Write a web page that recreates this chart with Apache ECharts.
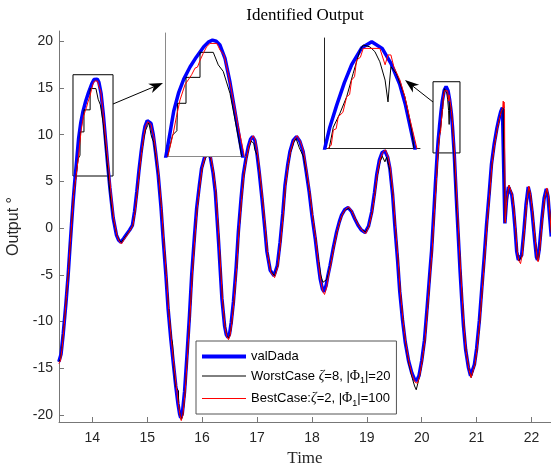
<!DOCTYPE html>
<html>
<head>
<meta charset="utf-8">
<script src="https://cdn.jsdelivr.net/npm/echarts@6/dist/echarts.min.js"></script>
<style>
html, body { margin: 0; padding: 0; background: #fff; }
#container { width: 551px; height: 466px; }
</style>
</head>
<body>
<div id="container"></div>
<script>
// time / output pairs
var valDada = [
  [13.39,-14.3],[13.43,-13.5],[13.47,-11.3],[13.52,-8.0],[13.56,-5.0],[13.59,-2.3],[13.62,0.3],[13.65,2.8],[13.68,5.0],
  [13.72,7.6],[13.75,9.6],[13.79,11.3],[13.83,12.5],[13.88,13.6],[13.93,14.5],[13.99,15.45],[14.03,15.9],[14.06,16.05],
  [14.09,15.95],[14.12,15.6],[14.16,14.4],[14.20,12.2],[14.24,9.5],[14.28,6.8],[14.32,4.3],[14.38,1.1],[14.44,-0.75],
  [14.48,-1.3],[14.52,-1.5],[14.57,-1.1],[14.63,-0.6],[14.68,-0.2],[14.73,0.3],[14.77,1.8],[14.81,3.9],[14.85,6.2],
  [14.89,8.2],[14.93,9.9],[14.96,10.9],[15.00,11.5],[15.03,11.7],[15.07,11.2],[15.11,10.0],[15.15,8.2],[15.20,5.7],
  [15.25,2.3],[15.29,-1.1],[15.34,-5.0],[15.38,-8.6],[15.43,-11.9],[15.48,-14.7],[15.52,-16.9],[15.56,-18.8],[15.59,-19.9],
  [15.61,-20.3],[15.64,-19.8],[15.68,-17.5],[15.72,-14.0],[15.77,-9.3],[15.81,-5.0],[15.86,-0.9],[15.90,2.1],[15.95,4.6],
  [15.99,6.4],[16.05,7.7],[16.10,8.1],[16.15,7.6],[16.20,5.9],[16.24,3.9],[16.30,-1.5],[16.36,-7.5],[16.41,-10.5],
  [16.44,-11.4],[16.47,-11.7],[16.50,-11.3],[16.53,-10.1],[16.57,-7.9],[16.62,-4.2],[16.66,-0.4],[16.71,3.2],[16.75,5.7],
  [16.80,7.5],[16.84,8.7],[16.88,9.5],[16.92,9.8],[16.96,9.4],[16.99,8.4],[17.04,6.0],[17.09,3.2],[17.14,0.1],[17.18,-2.5],
  [17.24,-4.5],[17.31,-5.1],[17.37,-4.0],[17.42,-1.5],[17.47,1.6],[17.51,4.6],[17.56,6.8],[17.60,8.2],[17.66,9.4],
  [17.72,9.8],[17.78,9.3],[17.84,8.2],[17.89,6.3],[17.95,3.9],[18.00,1.4],[18.06,-1.1],[18.11,-3.6],[18.15,-5.4],
  [18.19,-6.5],[18.22,-6.8],[18.26,-6.1],[18.29,-5.1],[18.33,-4.0],[18.39,-2.1],[18.45,-0.4],[18.50,0.7],[18.54,1.4],
  [18.60,2.0],[18.66,2.2],[18.72,1.8],[18.78,1.0],[18.84,0.3],[18.90,-0.2],[18.97,-0.46],[19.03,0.2],[19.09,1.75],
  [19.14,3.8],[19.18,5.7],[19.23,7.3],[19.28,8.1],[19.33,8.26],[19.38,7.6],[19.42,6.4],[19.47,3.6],[19.51,0.3],
  [19.56,-3.4],[19.60,-6.8],[19.65,-9.8],[19.70,-12.2],[19.76,-14.2],[19.82,-15.5],[19.87,-16.2],[19.91,-16.3],
  [19.95,-15.8],[20.00,-14.2],[20.05,-12.0],[20.10,-8.4],[20.15,-4.6],[20.18,-2.4],[20.22,1.6],[20.25,4.8],[20.283,8.0],
  [20.30,9.4],[20.324,10.9],[20.35,12.4],[20.375,13.6],[20.41,14.75],[20.444,15.15],[20.48,14.7],[20.51,13.7],
  [20.54,12.3],[20.56,10.9],[20.592,8.0],[20.64,2.1],[20.67,-1.3],[20.70,-4.7],[20.73,-7.7],[20.76,-10.4],[20.80,-13.0],
  [20.85,-14.9],[20.89,-15.8],[20.92,-15.7],[20.96,-14.6],[21.00,-12.9],[21.05,-9.9],[21.09,-6.8],[21.14,-3.0],[21.18,0.3],
  [21.23,3.8],[21.27,6.8],[21.32,9.0],[21.37,10.7],[21.41,11.8],[21.44,12.5],[21.47,12.9],[21.495,12.9],[21.515,0.5],
  [21.545,3.0],[21.58,4.4],[21.61,4.5],[21.64,3.6],[21.67,2.1],[21.70,0.0],[21.73,-2.5],[21.76,-3.4],[21.79,-3.6],
  [21.82,-2.9],[21.86,-0.4],[21.90,2.5],[21.94,4.4],[21.97,3.7],[22.01,1.75],[22.06,-1.4],[22.09,-3.1],[22.11,-3.4],
  [22.14,-2.3],[22.19,1.0],[22.23,3.2],[22.27,4.2],[22.30,3.4],[22.33,1.2],[22.36,-0.9]
];

var worstCase = [
  [13.39,-14.3],[13.42,-14.0],[13.45,-12.6],[13.49,-10.2],[13.53,-7.2],[13.57,-4.3],[13.60,-1.5],[13.63,1.1],[13.66,3.6],
  [13.70,5.4],[13.74,7.4],[13.775,7.8],[13.78,10.3],[13.848,10.3],[13.848,12.66],[13.96,12.66],[13.96,14.94],[14.066,14.94],
  [14.106,13.8],[14.146,13.2],[14.20,11.2],[14.24,8.8],[14.27,7.0],[14.30,5.0],[14.34,2.8],[14.39,0.8],[14.45,-0.8],
  [14.49,-1.3],[14.53,-1.5],[14.58,-1.1],[14.64,-0.6],[14.69,-0.2],[14.74,0.3],[14.78,1.8],[14.82,3.9],[14.86,6.2],
  [14.90,8.2],[14.94,9.7],[14.97,10.5],[15.01,11.0],[15.03,11.3],[15.05,11.2],[15.07,10.0],[15.09,9.6],[15.12,9.2],
  [15.16,7.6],[15.21,5.4],[15.26,2.1],[15.30,-1.2],[15.35,-5.0],[15.39,-8.6],[15.44,-11.8],[15.46,-12.3],[15.49,-12.3],
  [15.49,-15.3],[15.52,-15.3],[15.52,-17.0],[15.57,-17.4],[15.57,-18.8],[15.60,-20.0],[15.62,-20.5],[15.65,-20.0],
  [15.69,-17.6],[15.73,-14.0],[15.78,-9.3],[15.82,-5.0],[15.87,-0.9],[15.91,2.1],[15.96,4.6],[16.00,6.4],[16.06,7.5],
  [16.11,7.8],[16.16,7.4],[16.21,5.9],[16.25,3.9],[16.31,-1.5],[16.37,-7.6],[16.42,-10.6],[16.45,-11.5],[16.48,-11.8],
  [16.51,-11.4],[16.54,-10.2],[16.58,-7.9],[16.63,-4.2],[16.67,-0.4],[16.72,3.2],[16.76,5.7],[16.81,7.5],[16.85,8.6],
  [16.89,9.3],[16.92,9.5],[16.94,9.1],[16.96,8.4],[16.98,8.5],[17.01,7.7],[17.05,5.8],[17.10,3.1],[17.15,0.1],
  [17.19,-2.6],[17.25,-4.6],[17.32,-5.1],[17.38,-4.0],[17.43,-1.5],[17.48,1.6],[17.52,4.6],[17.57,6.8],[17.61,8.1],
  [17.67,9.2],[17.71,9.6],[17.74,9.4],[17.77,8.6],[17.80,8.4],[17.85,7.6],[17.90,6.0],[17.96,3.8],[18.01,1.4],
  [18.07,-1.1],[18.12,-3.4],[18.16,-5.0],[18.20,-5.8],[18.23,-5.9],[18.27,-5.5],[18.30,-4.9],[18.34,-3.9],[18.40,-2.1],
  [18.46,-0.4],[18.51,0.7],[18.55,1.4],[18.61,2.0],[18.67,2.1],[18.73,1.8],[18.79,1.0],[18.85,0.3],[18.91,-0.2],
  [18.98,-0.4],[19.04,0.2],[19.10,1.75],[19.15,3.8],[19.19,5.6],[19.24,7.1],[19.28,7.7],[19.31,7.9],[19.33,7.1],
  [19.36,7.6],[19.40,6.7],[19.43,5.9],[19.48,3.4],[19.52,0.2],[19.57,-3.4],[19.61,-6.8],[19.66,-9.9],[19.71,-12.4],
  [19.77,-14.6],[19.83,-16.1],[19.87,-16.9],[19.90,-17.3],[19.93,-16.6],[19.97,-15.6],[20.01,-14.2],[20.06,-12.0],
  [20.11,-8.4],[20.16,-4.6],[20.19,-2.4],[20.23,1.6],[20.27,5.4],[20.298,8.0],[20.312,9.4],[20.334,10.3],[20.358,11.45],
  [20.38,13.0],[20.404,14.6],[20.415,14.93],[20.438,14.8],[20.455,14.48],[20.472,13.8],[20.49,12.57],[20.50,11.1],
  [20.506,12.57],[20.51,13.47],[20.529,13.0],[20.558,11.45],[20.581,9.2],[20.589,8.0],[20.64,2.1],[20.68,-1.3],
  [20.71,-4.7],[20.74,-7.7],[20.77,-10.5],[20.81,-13.2],[20.86,-15.1],[20.90,-16.0],[20.93,-15.8],[20.97,-14.6],
  [21.01,-12.9],[21.06,-9.9],[21.10,-6.8],[21.15,-3.0],[21.19,0.3],[21.24,3.8],[21.28,6.8],[21.33,9.0],[21.38,10.7],
  [21.42,11.8],[21.45,12.5],[21.48,12.9],[21.505,12.8],[21.52,0.6],[21.55,3.1],[21.59,4.6],[21.62,4.6],[21.65,3.6],
  [21.68,2.1],[21.71,0.0],[21.74,-2.5],[21.77,-3.5],[21.80,-3.7],[21.83,-2.9],[21.87,-0.4],[21.91,2.5],[21.95,4.4],
  [21.98,3.7],[22.02,1.75],[22.07,-1.4],[22.10,-3.2],[22.12,-3.5],[22.15,-2.3],[22.20,1.0],[22.24,3.2],[22.28,4.2],
  [22.31,3.4],[22.34,1.2],[22.36,-0.5]
];

var bestCase = [
  [13.39,-14.5],[13.42,-14.2],[13.45,-12.8],[13.49,-10.3],[13.53,-7.2],[13.57,-4.3],[13.60,-1.5],[13.63,1.1],[13.66,3.6],
  [13.705,5.6],[13.746,7.56],[13.77,9.0],[13.80,10.6],[13.84,12.0],[13.87,12.5],[13.893,12.9],[13.92,13.5],[13.94,13.6],
  [13.96,14.2],[13.986,14.85],[14.013,15.45],[14.04,15.75],[14.095,15.75],[14.12,15.15],[14.152,14.7],[14.186,13.0],
  [14.226,10.6],[14.266,8.2],[14.306,6.0],[14.34,3.8],[14.39,1.0],[14.45,-0.8],[14.49,-1.4],[14.53,-1.7],[14.58,-1.2],
  [14.64,-0.7],[14.69,-0.2],[14.74,0.3],[14.78,1.8],[14.82,3.9],[14.86,6.2],[14.90,8.2],[14.94,9.9],[14.97,10.9],
  [15.01,11.4],[15.04,11.6],[15.07,11.1],[15.08,10.7],[15.12,9.8],[15.16,8.0],[15.21,5.6],[15.26,2.2],[15.30,-1.2],
  [15.35,-5.1],[15.39,-8.7],[15.44,-12.0],[15.49,-14.8],[15.53,-17.0],[15.57,-18.9],[15.60,-20.1],[15.62,-20.6],
  [15.65,-20.0],[15.69,-17.6],[15.73,-14.0],[15.78,-9.3],[15.82,-5.0],[15.87,-0.9],[15.91,2.1],[15.96,4.6],[16.00,6.4],
  [16.06,7.7],[16.11,8.1],[16.16,7.6],[16.21,5.9],[16.25,3.9],[16.31,-1.5],[16.37,-7.6],[16.42,-10.7],[16.45,-11.6],
  [16.48,-11.95],[16.51,-11.5],[16.54,-10.2],[16.58,-7.9],[16.63,-4.2],[16.67,-0.4],[16.72,3.2],[16.76,5.7],[16.81,7.5],
  [16.85,8.7],[16.89,9.5],[16.93,9.9],[16.97,9.4],[17.00,8.4],[17.05,6.0],[17.10,3.2],[17.15,0.1],[17.19,-2.6],
  [17.25,-4.7],[17.32,-5.3],[17.38,-4.1],[17.43,-1.5],[17.48,1.6],[17.52,4.6],[17.57,6.8],[17.61,8.2],[17.67,9.4],
  [17.73,9.9],[17.79,9.3],[17.85,8.2],[17.90,6.3],[17.96,3.9],[18.01,1.4],[18.07,-1.1],[18.12,-3.7],[18.16,-5.6],
  [18.20,-6.8],[18.23,-7.1],[18.27,-6.3],[18.30,-5.2],[18.34,-4.0],[18.40,-2.1],[18.46,-0.4],[18.51,0.7],[18.55,1.4],
  [18.61,2.0],[18.67,2.3],[18.73,1.8],[18.79,1.0],[18.85,0.3],[18.91,-0.2],[18.98,-0.6],[19.04,0.2],[19.10,1.75],
  [19.15,3.8],[19.19,5.7],[19.24,7.3],[19.29,8.1],[19.34,8.4],[19.39,7.6],[19.43,6.4],[19.48,3.6],[19.52,0.3],
  [19.57,-3.4],[19.61,-6.8],[19.66,-9.9],[19.71,-12.3],[19.77,-14.4],[19.83,-15.8],[19.88,-16.5],[19.92,-16.6],
  [19.96,-15.9],[20.01,-14.2],[20.06,-12.0],[20.11,-8.4],[20.16,-4.6],[20.19,-2.4],[20.23,1.6],[20.27,5.4],[20.295,8.0],
  [20.305,8.2],[20.312,9.2],[20.322,9.3],[20.329,10.1],[20.345,10.4],[20.358,11.45],[20.368,11.6],[20.375,12.57],
  [20.385,12.8],[20.392,13.92],[20.405,14.1],[20.415,14.7],[20.472,14.7],[20.49,13.6],[20.50,14.26],[20.51,14.26],
  [20.52,13.47],[20.541,12.57],[20.558,11.45],[20.576,9.88],[20.599,8.0],[20.65,2.1],[20.68,-1.3],[20.71,-4.7],
  [20.74,-7.7],[20.77,-10.5],[20.81,-13.2],[20.86,-15.1],[20.90,-16.0],[20.93,-15.8],[20.97,-14.6],[21.01,-12.9],
  [21.06,-9.9],[21.10,-6.8],[21.15,-3.0],[21.19,0.3],[21.24,3.8],[21.28,6.8],[21.33,9.0],[21.38,10.7],[21.42,11.8],
  [21.45,12.5],[21.475,12.8],[21.485,13.6],[21.49,12.9],[21.50,13.5],[21.508,12.8],[21.52,0.6],[21.55,3.1],[21.59,4.6],
  [21.62,4.6],[21.65,3.6],[21.68,2.1],[21.71,0.0],[21.74,-2.5],[21.77,-3.5],[21.80,-3.8],[21.83,-2.9],[21.87,-0.4],
  [21.91,2.5],[21.95,4.5],[21.98,3.7],[22.02,1.75],[22.07,-1.4],[22.10,-3.2],[22.12,-3.6],[22.15,-2.3],[22.20,1.0],
  [22.24,3.2],[22.28,4.3],[22.31,3.4],[22.34,1.2],[22.36,-0.5]
];

var xTicks = [14, 15, 16, 17, 18, 19, 20, 21, 22];
var yTicks = [-20, -15, -10, -5, 0, 5, 10, 15, 20];
var xRange = [13.393, 22.355];
var yRange = [-20.75, 21.1];

// zoom boxes drawn on the main axes: [t0, t1, v0, v1]
var zoomBox1 = [13.648, 14.377, 5.58, 16.42];
var zoomBox2 = [20.206, 20.697, 8.05, 15.67];
// what the two insets show
var inset1Range = [13.68, 14.32, 5.5, 16.7];
var inset2Range = [20.28, 20.61, 8.0, 15.4];

var legendText = {
    valDada: '{n|valDada}',
    WorstCase: '{n|WorstCase }{z|ζ}{n|=8, |}{p|Φ}{s|1}{n||=20}',
    BestCase: '{n|BestCase:}{z|ζ}{n|=2, |}{p|Φ}{s|1}{n||=100}'
};

function arrow(x1, y1, x2, y2) {
    var dx = x2 - x1, dy = y2 - y1;
    var L = Math.sqrt(dx * dx + dy * dy);
    var ux = dx / L, uy = dy / L;
    var hl = 14, hw = 5, nb = 10;
    var bx = x2 - ux * hl, by = y2 - uy * hl;
    var nx = x2 - ux * nb, ny = y2 - uy * nb;
    return [
        {type: 'line', z: 30, shape: {x1: x1, y1: y1, x2: nx, y2: ny}, style: {stroke: '#000', lineWidth: 1}},
        {type: 'polygon', z: 30, shape: {points: [[x2, y2], [bx - uy * hw, by + ux * hw], [nx, ny], [bx + uy * hw, by - ux * hw]]},
         style: {fill: '#000'}}
    ];
}

function line(name, data, color, width, idx, z) {
    return {
        name: name,
        type: 'line',
        data: data,
        xAxisIndex: idx,
        yAxisIndex: idx,
        symbol: 'none',
        showSymbol: false,
        color: color,
        lineStyle: {color: color, width: width},
        z: z,
        silent: true,
        clip: true
    };
}

function insetAxes(idx, r, lineColor) {
    return {
        x: {type: 'value', gridIndex: idx, min: r[0], max: r[1], z: 11,
            axisLine: {show: true, onZero: false, lineStyle: {color: lineColor, width: 1}},
            axisTick: {show: false}, axisLabel: {show: false}, splitLine: {show: false}},
        y: {type: 'value', gridIndex: idx, min: r[2], max: r[3], z: 11,
            axisLine: {show: true, onZero: false, lineStyle: {color: lineColor, width: 1}},
            axisTick: {show: false}, axisLabel: {show: false}, splitLine: {show: false}}
    };
}

var dom = document.getElementById('container');
var myChart = echarts.init(dom, null, {renderer: 'canvas'});

var in1 = insetAxes(1, inset1Range, '#8a8a8a');
var in2 = insetAxes(2, inset2Range, '#222');

var blueMain = line('valDada', valDada, '#0000ff', 3.5, 0, 2);
blueMain.markArea = {
    silent: true,
    itemStyle: {color: 'rgba(0,0,0,0)', borderColor: '#000', borderWidth: 1},
    label: {show: false},
    data: [
        [{coord: [zoomBox1[0], zoomBox1[3]]}, {coord: [zoomBox1[1], zoomBox1[2]]}],
        [{coord: [zoomBox2[0], zoomBox2[3]]}, {coord: [zoomBox2[1], zoomBox2[2]]}]
    ]
};

var option = {
    animation: false,
    backgroundColor: '#fff',
    grid: [
        {left: 59, right: 0, top: 31, bottom: 44, outerBoundsMode: 'none'},
        {left: 165, top: 33, width: 80, height: 123, show: true, backgroundColor: '#fff', borderWidth: 0, z: 10, outerBoundsMode: 'none'},
        {left: 324, top: 38, width: 96, height: 110, show: true, backgroundColor: '#fff', borderWidth: 0, z: 10, outerBoundsMode: 'none'}
    ],
    xAxis: [
        {
            type: 'value', gridIndex: 0, min: xRange[0], max: xRange[1],
            name: 'Time', nameLocation: 'middle', nameGap: 28,
            nameTextStyle: {fontFamily: 'Liberation Serif', fontSize: 17, color: '#262626'},
            axisLine: {onZero: false, lineStyle: {color: '#777', width: 1}},
            axisTick: {inside: true, length: 5, customValues: xTicks, lineStyle: {color: '#777'}},
            axisLabel: {customValues: xTicks, fontFamily: 'Liberation Sans', fontSize: 14, color: '#262626', margin: 9},
            splitLine: {show: false}
        },
        in1.x, in2.x
    ],
    yAxis: [
        {
            type: 'value', gridIndex: 0, min: yRange[0], max: yRange[1],
            name: 'Output °', nameLocation: 'middle', nameGap: 32,
            nameTextStyle: {fontFamily: "'Liberation Sans', Arial, sans-serif", fontSize: 16, color: '#262626'},
            axisLine: {show: true, onZero: false, lineStyle: {color: '#777', width: 1}},
            axisTick: {show: true, inside: true, length: 5, customValues: yTicks, lineStyle: {color: '#777'}},
            axisLabel: {customValues: yTicks, fontFamily: 'Liberation Sans', fontSize: 14, color: '#262626', margin: 6},
            splitLine: {show: false}
        },
        in1.y, in2.y
    ],
    legend: {
        data: [
            {name: 'valDada', lineStyle: {color: '#0000ff', width: 4}},
            {name: 'WorstCase', lineStyle: {color: '#000000', width: 1}},
            {name: 'BestCase', lineStyle: {color: '#ff0000', width: 1}}
        ],
        orient: 'vertical',
        left: 196,
        top: 341,
        z: 20,
        itemWidth: 44,
        itemHeight: 12,
        itemGap: 6,
        padding: [9, 6, 6, 4],
        backgroundColor: '#fff',
        borderColor: '#555',
        borderWidth: 1,
        borderRadius: 0,
        selectedMode: false,
        itemStyle: {opacity: 0},
        formatter: function (name) {
            return legendText[name];
        },
        textStyle: {
            fontFamily: 'Liberation Sans', fontSize: 13, color: '#000',
            rich: {
                n: {fontFamily: 'Liberation Sans', fontSize: 13, color: '#000'},
                z: {fontFamily: 'Liberation Serif', fontSize: 14, fontStyle: 'italic', color: '#000'},
                p: {fontFamily: 'Liberation Serif', fontSize: 14, color: '#000'},
                s: {fontFamily: 'Liberation Sans', fontSize: 9, color: '#000', padding: [10, 0, 0, 0]}
            }
        }
    },
    graphic: [
        {type: 'text', x: 305, y: 16, z: 30,
         style: {text: 'Identified Output', align: 'center', verticalAlign: 'middle',
                 fontFamily: 'Liberation Serif', fontSize: 17, fill: '#000'}}
    ].concat(arrow(113, 104, 163, 83)).concat(arrow(433, 102, 405, 80)),
    series: [
        blueMain,
        line('WorstCase', worstCase, '#000000', 1, 0, 3),
        line('BestCase', bestCase, '#ff0000', 1, 0, 4),
        line('valDada', valDada, '#0000ff', 3.5, 1, 12),
        line('WorstCase', worstCase, '#000000', 1, 1, 13),
        line('BestCase', bestCase, '#ff0000', 1, 1, 14),
        line('valDada', valDada, '#0000ff', 3.5, 2, 12),
        line('WorstCase', worstCase, '#000000', 1, 2, 13),
        line('BestCase', bestCase, '#ff0000', 1, 2, 14)
    ]
};

if (option && typeof option === 'object') {
    myChart.setOption(option, true);
}
window.onresize = function () {
    myChart.resize();
};
</script>
</body>
</html>
